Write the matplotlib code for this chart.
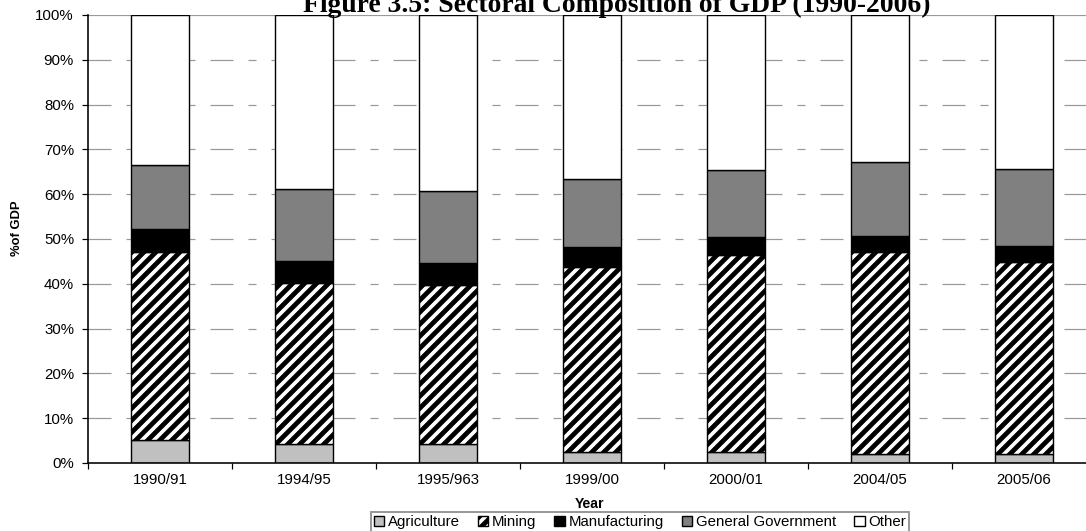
import matplotlib
matplotlib.use("Agg")
import matplotlib.pyplot as plt
import numpy as np
from matplotlib.patches import Patch

years = ["1990/91", "1994/95", "1995/963", "1999/00", "2000/01", "2004/05", "2005/06"]
agriculture = [5.1, 4.2, 4.2, 2.5, 2.5, 2.0, 1.9]
mining = [42.1, 36.0, 35.5, 41.3, 43.9, 45.0, 43.0]
manufacturing = [5.1, 4.9, 4.9, 4.4, 4.0, 3.7, 3.5]
general_gov = [14.2, 16.1, 16.1, 15.2, 15.0, 16.4, 17.2]
other = [33.5, 38.8, 39.3, 36.6, 34.6, 32.9, 34.4]

series_names = ["Agriculture", "Mining", "Manufacturing", "General Government", "Other"]

DPI = 144
W, H = 1086, 531
plt.rcParams['font.family'] = ['Liberation Sans', 'DejaVu Sans']
plt.rcParams['hatch.linewidth'] = 2.4
plt.rcParams['hatch.color'] = 'black'
plt.rcParams['lines.scale_dashes'] = False

fig = plt.figure(figsize=(W / DPI, H / DPI), dpi=DPI)
ax = fig.add_axes([88 / W, (H - 463) / H, 1008 / W, 448 / H])

x = np.arange(len(years))
bw = 0.403
styles = [
    dict(color='#C0C0C0'),
    dict(color='white', hatch='////'),
    dict(color='black'),
    dict(color='#808080'),
    dict(color='white'),
]
data = [agriculture, mining, manufacturing, general_gov, other]
bottom = np.zeros(len(years))
handles = []
for name, vals, st in zip(series_names, data, styles):
    ax.bar(x, vals, bw, bottom=bottom, facecolor=st['color'], edgecolor='black',
           linewidth=0.7, hatch=st.get('hatch'), zorder=3)
    handles.append(Patch(facecolor=st['color'], edgecolor='black', linewidth=0.7,
                         hatch=st.get('hatch'), label=name))
    bottom += np.array(vals)

ax.set_xlim(-0.5, len(years) - 0.5)
ax.set_ylim(0, 100)

# grid
for yv in range(10, 100, 10):
    ax.axhline(yv, color='#999999', lw=0.6, dashes=(11.5, 7.5, 4, 7.5), zorder=1)
ax.axhline(100, color='#999999', lw=0.6, zorder=1)

ax.set_yticks(range(0, 101, 10))
ax.set_yticklabels([f"{v}%" for v in range(0, 101, 10)], fontsize=7.5)
ax.set_xticks(np.arange(-0.5, len(years), 1.0))
ax.set_xticklabels([])
ax.set_xticks(x, minor=True)
ax.set_xticklabels(years, minor=True, fontsize=7.5)
ax.tick_params(axis='x', which='minor', length=0, pad=5)
ax.tick_params(axis='x', which='major', length=3, width=0.6, direction='out')
ax.tick_params(axis='y', length=3, width=0.6, direction='out', pad=4)

for s in ['top', 'right']:
    ax.spines[s].set_visible(False)
for s in ['left', 'bottom']:
    ax.spines[s].set_linewidth(0.8)
    ax.spines[s].set_zorder(4)

fig.text(617 / W, 1 - 12 / H, "Figure 3.5: Sectoral Composition of GDP (1990-2006)",
         ha='center', va='baseline', fontsize=13.8, fontweight='bold',
         family=['Liberation Serif', 'DejaVu Serif'])
fig.text(590 / W, 1 - 504 / H, "Year", ha='center', va='center', fontsize=7, fontweight='bold')
fig.text(17 / W, 1 - 228 / H, "%of GDP", ha='center', va='center', rotation=90,
         fontsize=6.5, fontweight='bold')

leg = fig.legend(handles=handles, loc='center', bbox_to_anchor=(640 / W, 1 - 522 / H),
                 ncol=5, fontsize=7.5, frameon=True, fancybox=False, handlelength=0.7,
                 handleheight=0.7, handletextpad=0.25, columnspacing=1.2, borderpad=0.2,
                 borderaxespad=0)
leg.get_frame().set_edgecolor('#808080')
leg.get_frame().set_linewidth(1.0)

fig.savefig("out.png", dpi=DPI)
